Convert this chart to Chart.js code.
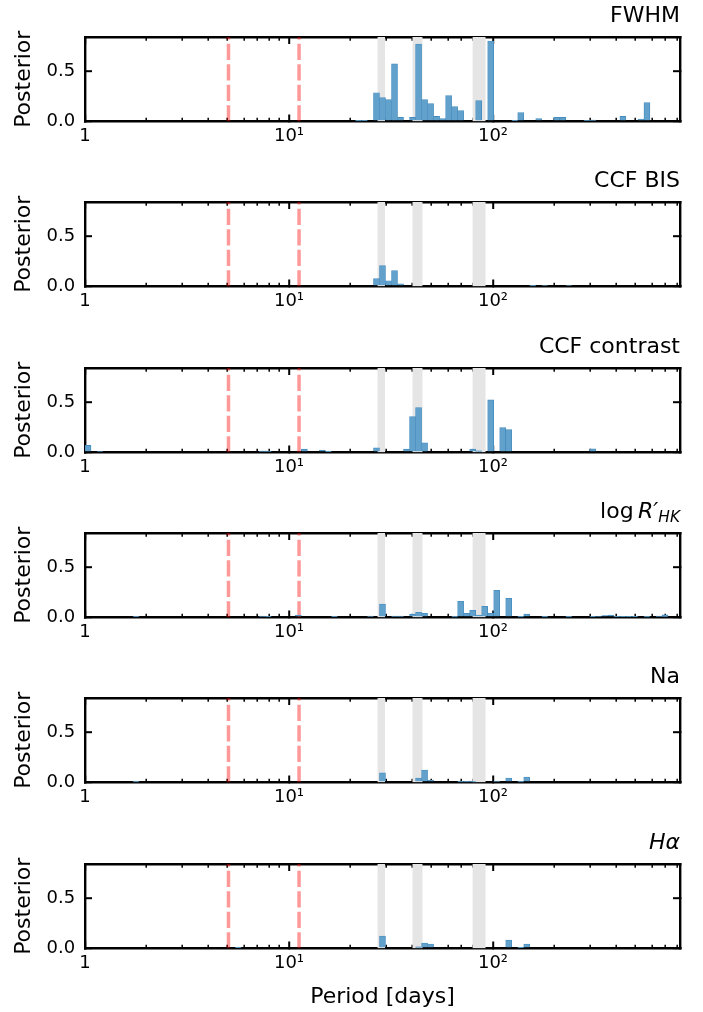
<!DOCTYPE html>
<html>
<head>
<meta charset="utf-8">
<script src="https://cdn.jsdelivr.net/npm/chart.js@4.4.1/dist/chart.umd.min.js"></script>
<style>
html, body { margin: 0; padding: 0; background: #ffffff; width: 703px; height: 1012px; overflow: hidden; }
canvas.panel { position: absolute; left: 0; display: block; }
</style>
</head>
<body>
<script>
// ---------------- data ----------------
const periodMin = 1;
const periodMax = 825;
const nBins = 99;              // log-spaced histogram bins between periodMin and periodMax
const posteriorMax = 0.834;

const fwhmBins = [45, 46, 48, 49, 50, 51, 52, 54, 55, 56, 57, 58, 59, 60, 61, 62, 65, 67, 71, 72, 75, 78, 79, 83, 84, 89, 92, 93];
const fwhmVals = [0.004, 0.005, 0.284, 0.235, 0.216, 0.569, 0.04, 0.04, 0.765, 0.216, 0.176, 0.05, 0.03, 0.255, 0.147, 0.108, 0.206, 0.794, 0.005, 0.088, 0.03, 0.04, 0.04, 0.008, 0.015, 0.05, 0.025, 0.186];

const bisBins = [48, 49, 50, 51, 52, 74, 76, 80];
const bisVals = [0.077, 0.207, 0.057, 0.157, 0.027, 0.003, 0.01, 0.01];

const contrastBins = [0, 2, 29, 30, 36, 39, 40, 48, 53, 54, 55, 56, 64, 65, 67, 69, 70, 84];
const contrastVals = [0.07, 0.01, 0.015, 0.015, 0.033, 0.023, 0.005, 0.046, 0.033, 0.354, 0.444, 0.096, 0.033, 0.017, 0.52, 0.245, 0.225, 0.036];

const rhkBins = [8, 29, 30, 35, 41, 47, 49, 51, 52, 54, 55, 56, 61, 62, 63, 64, 65, 66, 67, 68, 70, 72, 73, 76, 80, 84, 85, 86, 87, 88, 89, 90, 91, 93, 95, 96];
const rhkVals = [0.007, 0.013, 0.005, 0.023, 0.005, 0.013, 0.132, 0.013, 0.013, 0.033, 0.052, 0.042, 0.003, 0.16, 0.042, 0.072, 0.023, 0.111, 0.042, 0.268, 0.19, 0.004, 0.033, 0.004, 0.004, 0.005, 0.01, 0.02, 0.023, 0.005, 0.005, 0.005, 0.005, 0.004, 0.013, 0.026];

const naBins = [8, 49, 55, 56, 57, 62, 63, 64, 68, 70, 72, 73];
const naVals = [0.003, 0.096, 0.043, 0.122, 0.023, 0.003, 0.003, 0.003, 0.013, 0.043, 0.003, 0.053];

const haBins = [25, 49, 55, 56, 57, 70, 72, 73];
const haVals = [0.005, 0.122, 0.017, 0.053, 0.043, 0.083, 0.007, 0.043];

const shadedBands = [[27.1, 29.55], [40.2, 45.2], [79.2, 92.1]];
const markedPeriods = [5.05, 11.2];

const majorTicks = [1, 10, 100];
const majorTickLabels = ['1', '10¹', '10²'];
const minorTicks = [2, 3, 4, 5, 6, 7, 8, 9, 20, 30, 40, 50, 60, 70, 80, 90, 200, 300, 400, 500, 600, 700, 800];
const yTicks = [0, 0.5];
const yTickLabels = ['0.0', '0.5'];

const yAxisTitle = 'Posterior';
const xAxisTitle = 'Period [days]';

const panelTitles = [
  [{ text: 'FWHM' }],
  [{ text: 'CCF BIS' }],
  [{ text: 'CCF contrast' }],
  [{ text: 'log' }, { text: 'R′', italic: true, gap: 0.2 }, { text: 'HK', italic: true, sub: true }],
  [{ text: 'Na' }],
  [{ text: 'Hα', italic: true }]
];

const panelData = [
  [fwhmBins, fwhmVals],
  [bisBins, bisVals],
  [contrastBins, contrastVals],
  [rhkBins, rhkVals],
  [naBins, naVals],
  [haBins, haVals]
];

// ---------------- styling / layout ----------------
const FONT = 'DejaVu Sans';
const TICK_SIZE = 18;
const LABEL_SIZE = 22;
const TITLE_SIZE = 22;
const BAR_FILL = 'rgb(97,161,203)';
const BAR_EDGE = 'rgb(68,140,192)';
const BAND_FILL = '#e5e5e5';
const MARK_COLOR = 'rgba(255,0,0,0.4)';
const SPINE_W = 2.4;
const MAJOR_W = 2.0;
const MINOR_W = 1.5;
const PANEL_STEP = 165.3;
const PAD_TOP = 37;
const PLOT_H = 84.5;

const logMax = Math.log10(periodMax) - Math.log10(periodMin);
const binCenters = [];
for (let i = 0; i < nBins; i++) {
  binCenters.push(Math.pow(10, Math.log10(periodMin) + (i + 0.5) * logMax / nBins));
}

const titlePlugin = {
  id: 'panelTitle',
  afterDraw(chart, args, opts) {
    const segs = opts.segments;
    if (!segs) return;
    const ctx = chart.ctx;
    const base = chart.chartArea.top - 15.3;
    ctx.save();
    ctx.fillStyle = '#000';
    ctx.textBaseline = 'alphabetic';
    const items = segs.map(s => {
      const size = s.sub ? TITLE_SIZE * 0.7 : TITLE_SIZE;
      const font = (s.italic ? 'italic ' : '') + size + 'px "' + FONT + '"';
      ctx.font = font;
      const gap = (s.gap || 0) * TITLE_SIZE;
      return { s, font, gap, w: ctx.measureText(s.text).width, dy: s.sub ? 4.6 : 0 };
    });
    const total = items.reduce((a, it) => a + it.gap + it.w, 0);
    let x = chart.chartArea.right - total;
    items.forEach(it => {
      x += it.gap;
      ctx.font = it.font;
      ctx.textAlign = 'left';
      ctx.fillText(it.s.text, x, base + it.dy);
      x += it.w;
    });
    ctx.restore();
  }
};

function xAxis(position, ticksArr, tickLen, tickW, opts) {
  return Object.assign({
    type: 'logarithmic',
    position: position,
    min: periodMin,
    max: periodMax,
    offset: false,
    bounds: 'data',
    z: 1,
    afterBuildTicks: s => { s.ticks = ticksArr.map(v => ({ value: v, major: false })); },
    ticks: { display: false, autoSkip: false, maxRotation: 0, minRotation: 0 },
    grid: { display: true, offset: false, drawOnChartArea: false, drawTicks: true, tickLength: tickLen, tickWidth: tickW, tickColor: '#000', lineWidth: SPINE_W },
    border: { display: false }
  }, opts || {});
}

panelData.forEach((pd, idx) => {
  const isLast = idx === panelData.length - 1;
  const canvasTop = Math.round(PANEL_STEP * idx);
  const canvasH = isLast ? 1012 - canvasTop : 165;
  const canvas = document.createElement('canvas');
  canvas.className = 'panel';
  canvas.width = 703;
  canvas.height = canvasH;
  canvas.style.width = '703px';
  canvas.style.height = canvasH + 'px';
  canvas.style.top = canvasTop + 'px';
  document.body.appendChild(canvas);

  const [bins, vals] = pd;
  const barData = binCenters.map(c => ({ x: c, y: null }));
  bins.forEach((b, k) => { barData[b].y = vals[k]; });

  const datasets = [{
    type: 'bar',
    data: barData,
    backgroundColor: BAR_FILL,
    borderColor: BAR_EDGE,
    borderWidth: 0.8,
    categoryPercentage: 1.0,
    barPercentage: 1.0,
    xAxisID: 'x', yAxisID: 'y',
    order: 0
  }];
  markedPeriods.forEach(p => {
    datasets.push({
      type: 'line',
      data: [{ x: p, y: 0 }, { x: p, y: posteriorMax }],
      borderColor: MARK_COLOR,
      borderWidth: 3.5,
      borderDash: [16.2, 4.3],
      pointRadius: 0,
      fill: false,
      clip: 0,
      xAxisID: 'x', yAxisID: 'y',
      order: 1
    });
  });
  shadedBands.forEach(b => {
    datasets.push({
      type: 'line',
      data: [{ x: b[0], y: posteriorMax }, { x: b[1], y: posteriorMax }],
      borderWidth: 0,
      borderColor: 'rgba(0,0,0,0)',
      backgroundColor: BAND_FILL,
      pointRadius: 0,
      fill: 'origin',
      clip: 0,
      xAxisID: 'x', yAxisID: 'y',
      order: 2
    });
  });

  const bottomH = canvasH - PAD_TOP - PLOT_H;

  new Chart(canvas, {
    type: 'bar',
    data: { datasets },
    plugins: [titlePlugin],
    options: {
      responsive: false,
      animation: false,
      events: [],
      devicePixelRatio: 1,
      layout: { padding: { top: PAD_TOP, right: 23, left: 0, bottom: 0 } },
      plugins: {
        legend: { display: false },
        tooltip: { enabled: false },
        title: { display: false },
        panelTitle: { segments: panelTitles[idx] }
      },
      scales: {
        xm: xAxis('bottom', minorTicks, -3.8, MINOR_W, { weight: 0, afterFit: s => { s.height = 0; } }),
        x: xAxis('bottom', majorTicks, -7, MAJOR_W, {
          weight: 1,
          afterFit: s => { s.height = bottomH; },
          ticks: {
            display: true, autoSkip: false, maxRotation: 0, minRotation: 0,
            padding: 11.5, color: '#000',
            font: { family: FONT, size: TICK_SIZE },
            callback: v => majorTickLabels[majorTicks.indexOf(v)]
          },
          border: { display: true, color: '#000', width: SPINE_W },
          title: {
            display: isLast, text: xAxisTitle, color: '#000',
            font: { family: FONT, size: LABEL_SIZE, lineHeight: 1 },
            padding: { top: 0, bottom: 3.6 }
          }
        }),
        xtm: xAxis('top', minorTicks, -3.8, MINOR_W, { weight: 0, afterFit: s => { s.height = 0; } }),
        xt: xAxis('top', majorTicks, -7, MAJOR_W, {
          weight: 1,
          afterFit: s => { s.height = 0; },
          border: { display: true, color: '#000', width: SPINE_W }
        }),
        y: {
          type: 'linear', position: 'left', min: 0, max: posteriorMax, bounds: 'data', z: 1,
          afterBuildTicks: s => { s.ticks = yTicks.map(v => ({ value: v })); },
          afterFit: s => { s.width = 85; },
          ticks: {
            display: true, padding: 16.8, color: '#000',
            font: { family: FONT, size: TICK_SIZE },
            callback: v => yTickLabels[yTicks.indexOf(v)]
          },
          grid: { display: true, drawOnChartArea: false, drawTicks: true, tickLength: -7, tickWidth: MAJOR_W, tickColor: '#000', lineWidth: SPINE_W },
          border: { display: true, color: '#000', width: SPINE_W },
          title: {
            display: true, text: yAxisTitle, color: '#000',
            font: { family: FONT, size: LABEL_SIZE, lineHeight: 1 },
            padding: { top: 13.5, bottom: 0 }
          }
        },
        yr: {
          type: 'linear', position: 'right', min: 0, max: posteriorMax, bounds: 'data', z: 1,
          afterBuildTicks: s => { s.ticks = yTicks.map(v => ({ value: v })); },
          afterFit: s => { s.width = 0; },
          ticks: { display: false },
          grid: { display: true, drawOnChartArea: false, drawTicks: true, tickLength: -7, tickWidth: MAJOR_W, tickColor: '#000', lineWidth: SPINE_W },
          border: { display: true, color: '#000', width: SPINE_W }
        }
      }
    }
  });
});
</script>
</body>
</html>
